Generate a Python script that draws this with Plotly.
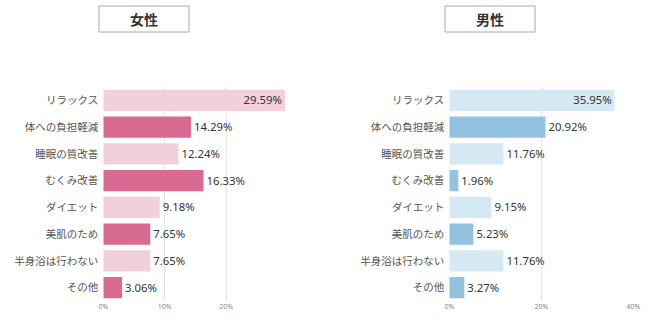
import plotly.graph_objects as go

categories = ["リラックス", "体への負担軽減", "睡眠の質改善", "むくみ改善", "ダイエット", "美肌のため", "半身浴は行わない", "その他"]
female = [29.59, 14.29, 12.24, 16.33, 9.18, 7.65, 7.65, 3.06]
male = [35.95, 20.92, 11.76, 1.96, 9.15, 5.23, 11.76, 3.27]
female_ticks = [0, 10, 20]
male_ticks = [0, 20, 40]
titles = ["女性", "男性"]

pink = ["#f1d0dc" if i % 2 == 0 else "#d96a92" for i in range(len(categories))]
blue = ["#d5e9f4" if i % 2 == 0 else "#93c3e1" for i in range(len(categories))]

W, H = 650, 328
FONT = "Noto Sans CJK JP"
NUMFONT = "Noto Sans"

fig = go.Figure()

def add_panel(vals, colors, xa, ya, inside_idx):
    textpos = ["inside" if i == inside_idx else "outside" for i in range(len(vals))]
    fig.add_trace(go.Bar(
        x=vals, y=categories, orientation="h",
        marker=dict(color=colors, line=dict(width=0)),
        width=0.8,
        text=[f"{v:.2f}%" for v in vals],
        textposition=textpos,
        insidetextanchor="end",
        textfont=dict(size=12.5, color="#333333", family=NUMFONT),
        cliponaxis=False,
        xaxis=xa, yaxis=ya, showlegend=False, hoverinfo="skip",
    ))

add_panel(female, pink, "x", "y", 0)
add_panel(male, blue, "x2", "y2", 0)

ydom = [(H - 301) / H, (H - 87) / H]

axis_common = dict(
    showgrid=True, gridcolor="#e6e6e6", gridwidth=1, zeroline=False,
    showline=False, ticks="", tickmode="array", automargin=False,
    tickfont=dict(size=7, color="#888888", family=NUMFONT),
)
yaxis_common = dict(
    categoryorder="array", categoryarray=categories, autorange="reversed",
    showgrid=False, zeroline=False, showline=False, ticks="", automargin=False,
    tickfont=dict(size=10.5, color="#555555", family=FONT),
    ticklabelstandoff=4, domain=ydom,
)

fig.update_layout(
    width=W, height=H,
    margin=dict(l=0, r=0, t=0, b=0),
    paper_bgcolor="white", plot_bgcolor="white",
    font=dict(family=FONT),
    bargap=0.2,
    uniformtext=dict(minsize=8, mode="show"),
    xaxis=dict(domain=[103.3 / W, 290 / W], range=[0, (290 - 103.3) / 6.14],
               tickvals=female_ticks, ticktext=[f"{t}%" for t in female_ticks],
               anchor="y", **axis_common),
    yaxis=dict(anchor="x", **yaxis_common),
    xaxis2=dict(domain=[449.3 / W, 634 / W], range=[0, (634 - 449.3) / 4.6],
                tickvals=male_ticks, ticktext=[f"{t}%" for t in male_ticks],
                anchor="y2", **axis_common),
    yaxis2=dict(anchor="x2", **yaxis_common),
)

# title boxes
boxes = [(99, 189), (445, 535)]
for (x0, x1), t in zip(boxes, titles):
    fig.add_shape(type="rect", xref="paper", yref="paper",
                  x0=x0 / W, x1=x1 / W, y0=(H - 32) / H, y1=(H - 6) / H,
                  line=dict(color="#aaaaaa", width=1), fillcolor="white")
    fig.add_annotation(xref="paper", yref="paper", x=(x0 + x1) / 2 / W, y=(H - 19) / H,
                       text=f"<b>{t}</b>", showarrow=False,
                       font=dict(size=14, color="#333333", family=FONT),
                       xanchor="center", yanchor="middle")

fig.write_html("out.html")
